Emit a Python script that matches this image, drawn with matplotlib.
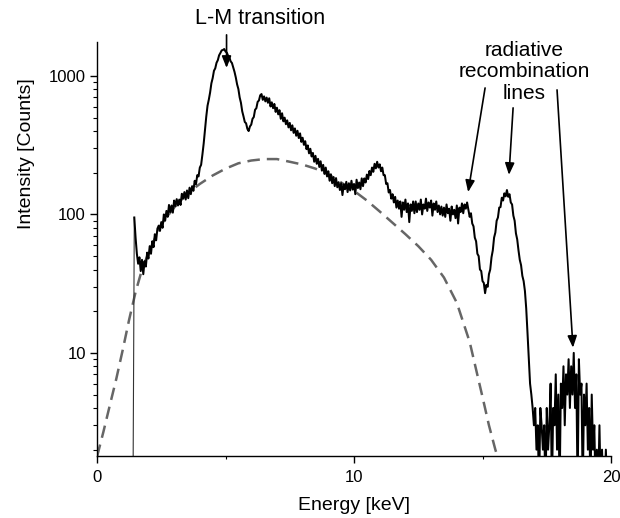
import matplotlib
matplotlib.use('Agg')
import matplotlib.pyplot as plt
from matplotlib.ticker import LogLocator, NullFormatter
import numpy as np

plt.rcParams['font.family'] = ['Liberation Sans', 'DejaVu Sans']

# measured spectrum, 0.05 keV channels starting at 1.40 keV
e_start = 1.40
e_step = 0.05
counts = [
    1, 95, 68, 52, 44, 49, 39, 47, 37, 46, 42, 53, 48, 59, 52, 64, 58, 72, 65, 79,
    83, 76, 88, 80, 100, 90, 106, 96, 117, 104, 116, 103, 126, 115, 129, 116, 128, 117, 141, 130,
    145, 128, 149, 131, 156, 140, 160, 148, 175, 165, 192, 188, 218, 228, 270, 325, 405, 508, 610, 675,
    760, 885, 965, 1090, 1135, 1245, 1300, 1410, 1465, 1530, 1540, 1565, 1500, 1475, 1400, 1360, 1275, 1240, 1150, 1070,
    975, 870, 805, 700, 640, 555, 510, 465, 455, 415, 400, 432, 445, 490, 505, 570, 585, 650, 665, 725,
    740, 672, 712, 655, 698, 640, 690, 602, 645, 585, 628, 550, 590, 528, 566, 490, 538, 470, 500, 448,
    478, 425, 458, 405, 440, 388, 418, 370, 402, 356, 385, 334, 358, 318, 338, 296, 315, 276, 298, 262,
    278, 240, 265, 232, 252, 220, 242, 207, 228, 196, 218, 188, 205, 175, 195, 168, 186, 160, 183, 157,
    171, 150, 168, 138, 165, 152, 172, 145, 168, 149, 175, 151, 166, 140, 178, 155, 170, 152, 182, 160,
    182, 170, 194, 180, 206, 192, 218, 203, 232, 215, 240, 218, 230, 205, 218, 192, 192, 166, 168, 144,
    150, 130, 140, 122, 134, 112, 126, 110, 124, 96, 122, 108, 128, 104, 120, 88, 118, 106, 124, 102,
    124, 104, 120, 108, 128, 100, 118, 110, 130, 106, 122, 112, 126, 98, 120, 108, 124, 104, 116, 100,
    114, 98, 112, 96, 118, 102, 110, 90, 114, 100, 108, 94, 116, 86, 112, 104, 120, 102, 118, 110,
    122, 108, 96, 102, 86, 82, 68, 64, 52, 50, 40, 39, 33, 32, 27, 31, 30, 37, 40, 49,
    55, 68, 74, 90, 95, 112, 113, 132, 126, 142, 135, 150, 134, 140, 122, 118, 98, 90, 73, 66,
    55, 47, 43, 36, 33, 28, 21, 14, 9, 6, 5, 4, 3, 4, 2, 3, 1, 4, 3, 2,
    3, 1, 4, 2, 3, 6, 1, 4, 3, 7, 2, 5, 1, 6, 4, 8, 3, 7, 5, 9,
    4, 8, 5, 10, 4, 7, 1, 9, 5, 6, 1, 5, 3, 6, 2, 4, 1, 5, 2, 3,
    1, 2, 1, 3, 1, 2, 1, 1, 2, 1,
]
energy = e_start + e_step * np.arange(len(counts))

# bremsstrahlung background (dashed)
bg_energy = [0, 0.25, 0.5, 0.75, 1.0, 1.25, 1.5, 1.75, 2.0, 2.5, 3, 3.5, 4, 4.5, 5, 5.5, 6, 6.5, 7,
             7.5, 8, 8.5, 9, 9.5, 10, 10.5, 11, 11.5, 12, 12.5, 13, 13.5, 14, 14.5, 15, 15.25, 15.5, 15.6]
bg_counts = [1.78, 2.7, 4.2, 6.5, 10.5, 17.4, 27.5, 40, 52.5, 85, 112, 141, 166, 191, 214, 234, 245, 251, 251,
             240, 229, 214, 195, 170, 148, 126, 105, 87, 72, 59, 47, 35, 23, 12, 4.8, 3.0, 2.0, 1.74]

# annotations: (tail, tip) in data coords
lm_arrow = ((5.04, 1980), (5.04, 1143))
rr_arrows = [((15.10, 819), (14.44, 145)),
             ((16.19, 588), (16.03, 193)),
             ((17.90, 793), (18.52, 10.9))]

fig = plt.figure(figsize=(6.2, 5.18), dpi=100)
ax = fig.add_axes([0.1565, 0.1197, 0.829, 0.7993])

ax.plot(bg_energy, bg_counts, color='#666666', lw=1.8, ls=(0, (5, 2.8)), zorder=1)
# detector threshold edge is drawn thin, the rest of the spectrum heavier
ax.plot(energy[:2], counts[:2], color='#333333', lw=0.8, zorder=2)
ax.plot(energy[1:], counts[1:], color='black', lw=1.45, zorder=2)

ax.set_yscale('log')
ax.set_xlim(0, 20)
ax.set_ylim(1.8, 1760)

ax.spines['top'].set_visible(False)
ax.spines['right'].set_visible(False)
for s in ['left', 'bottom']:
    ax.spines[s].set_linewidth(1.0)

ax.set_xticks([0, 10, 20])
ax.set_xticks([5, 15], minor=True)
ax.set_yticks([10, 100, 1000])
ax.set_yticklabels(['10', '100', '1000'])
ax.yaxis.set_minor_locator(LogLocator(base=10, subs=range(2, 10)))
ax.yaxis.set_minor_formatter(NullFormatter())
ax.tick_params(which='major', direction='out', length=5, width=1, labelsize=12, pad=3)
ax.tick_params(axis='x', which='major', pad=5)
ax.tick_params(which='minor', direction='out', length=2.8, width=0.8)
ax.tick_params(axis='x', which='minor', length=2)

ax.set_xlabel('Energy [keV]', fontsize=14, labelpad=9)
ax.set_ylabel('Intensity [Counts]', fontsize=14, labelpad=10)
ax.yaxis.label.set_y(0.73)

arrow_kw = dict(arrowstyle='-|>,head_length=0.5,head_width=0.2', mutation_scale=14,
                lw=1.2, color='black', shrinkA=0, shrinkB=0)
ax.annotate('', xy=lm_arrow[1], xytext=lm_arrow[0], arrowprops=arrow_kw, annotation_clip=False)
for tail, tip in rr_arrows:
    ax.annotate('', xy=tip, xytext=tail, arrowprops=arrow_kw, annotation_clip=False)

ax.text(6.34, 2620, 'L-M transition', fontsize=15.5, ha='center', va='center', clip_on=False)
ax.text(16.61, 1069, 'radiative\nrecombination\nlines', fontsize=15, ha='center', va='center',
        linespacing=1.15, clip_on=False)

fig.savefig('out.png', dpi=100)
